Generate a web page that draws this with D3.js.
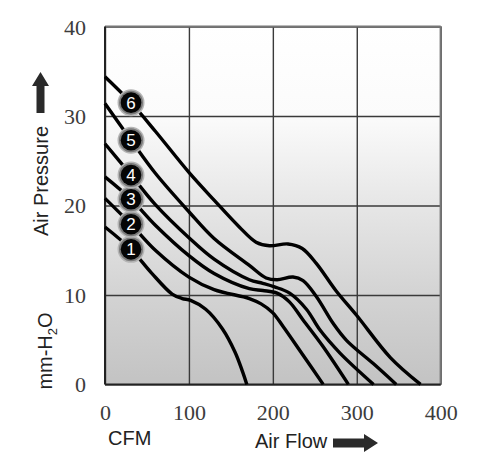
<!DOCTYPE html>
<html>
<head>
<meta charset="utf-8">
<script src="https://cdn.jsdelivr.net/npm/d3@7"></script>
<style>
  body { margin: 0; background: #fff; }
</style>
</head>
<body>
<div id="chart"></div>
<script>
var w = 500;
var h = 462;

// fan curves 1..6, [CFM, mm-H2O]
var fan1 = [[0,17.6],[31,15.1],[55,12.5],[80,10.1],[92,9.6],[102,9.4],[120,8.4],[140,6.2],[155,3.6],[164,1.4],[169,0]];
var fan2 = [[0,20.8],[31,17.9],[60,15.0],[100,12.0],[130,10.6],[172,9.6],[186,9.0],[200,8.0],[212,6.5],[235,3.4],[260,0]];
var fan3 = [[0,23.2],[31,20.7],[60,17.8],[100,14.4],[130,12.4],[172,10.7],[188,10.5],[205,10.2],[220,9.2],[236,7.2],[260,4.2],[290,0]];
var fan4 = [[0,26.9],[31,23.4],[60,20.1],[100,16.4],[130,14.0],[172,11.7],[188,11.3],[202,10.9],[220,10.2],[240,8.4],[256,6.1],[280,3.5],[320,0]];
var fan5 = [[0,31.4],[31,27.3],[60,23.6],[100,19.3],[130,16.3],[172,13.3],[192,11.9],[205,11.7],[224,12.0],[236,11.6],[252,9.8],[272,6.8],[288,4.9],[320,2.3],[347,0]];
var fan6 = [[0,34.4],[31,31.5],[60,28.3],[100,23.7],[130,20.6],[160,17.6],[180,15.9],[196,15.5],[218,15.7],[235,15.2],[252,13.5],[275,10.5],[300,7.7],[340,3.0],[376,0]];
var curves = [fan1, fan2, fan3, fan4, fan5, fan6];
var curveLabels = ["1", "2", "3", "4", "5", "6"];
var labelX = 31; // labels sit on each curve at this CFM

var xTicks = [0, 100, 200, 300, 400];
var yTicks = [0, 10, 20, 30, 40];

var xscale = d3.scaleLinear().domain([0, 400]).range([105, 440.7]);
var yscale = d3.scaleLinear().domain([0, 40]).range([384.4, 26.6]);

var svg = d3.select("#chart")
            .append("svg")
            .attr("width", w)
            .attr("height", h);

// background gradient
var grad = svg.append("defs")
              .append("linearGradient")
              .attr("id", "bg")
              .attr("x1", 0).attr("y1", 0)
              .attr("x2", 0).attr("y2", 1);
grad.append("stop").attr("offset", "0").attr("stop-color", "#ffffff");
grad.append("stop").attr("offset", "0.25").attr("stop-color", "#fbfbfb");
grad.append("stop").attr("offset", "0.5").attr("stop-color", "#e6e6e6");
grad.append("stop").attr("offset", "0.75").attr("stop-color", "#d3d3d3");
grad.append("stop").attr("offset", "1").attr("stop-color", "#c3c3c3");

svg.append("rect")
   .attr("x", xscale(0))
   .attr("y", yscale(40))
   .attr("width", xscale(400) - xscale(0))
   .attr("height", yscale(0) - yscale(40))
   .attr("fill", "url(#bg)");

// grid + tick labels
var yAxis = svg.append("g")
   .attr("transform", `translate(${xscale(0)},0)`)
   .call(d3.axisLeft(yscale).tickValues(yTicks).tickSize(-(xscale(400) - xscale(0))).tickPadding(19));
var xAxis = svg.append("g")
   .attr("transform", `translate(0,${yscale(0)})`)
   .call(d3.axisBottom(xscale).tickValues(xTicks).tickSize(-(yscale(0) - yscale(40))).tickPadding(20));

[yAxis, xAxis].forEach(function(a) {
    a.attr("font-family", null).attr("font-size", null);
    a.select(".domain").remove();
    a.selectAll(".tick line").attr("stroke", "#3a3a3a").attr("stroke-width", 1.4);
    a.selectAll(".tick text")
     .style("font-family", "'Liberation Serif', 'DejaVu Serif', serif")
     .style("font-size", "22px")
     .attr("fill", "#3c3c3c");
});
yAxis.selectAll(".tick text").attr("dy", "0.34em");
xAxis.selectAll(".tick text").attr("dy", "0.72em");

// frame: top/right lighter, left/bottom dark
svg.append("line").attr("x1", xscale(0)).attr("x2", xscale(400)).attr("y1", yscale(40)).attr("y2", yscale(40))
   .attr("stroke", "#777").attr("stroke-width", 2);
svg.append("line").attr("x1", xscale(400)).attr("x2", xscale(400)).attr("y1", yscale(40)).attr("y2", yscale(0))
   .attr("stroke", "#777").attr("stroke-width", 2.2);
svg.append("line").attr("x1", xscale(0)).attr("x2", xscale(0)).attr("y1", yscale(40)).attr("y2", yscale(0))
   .attr("stroke", "#222").attr("stroke-width", 2);
svg.append("line").attr("x1", xscale(0)).attr("x2", xscale(400)).attr("y1", yscale(0)).attr("y2", yscale(0))
   .attr("stroke", "#222").attr("stroke-width", 2);

// curves
var line = d3.line()
             .x(d => xscale(d[0]))
             .y(d => yscale(d[1]))
             .curve(d3.curveCatmullRom.alpha(0.5));

svg.selectAll("path.fan")
   .data(curves)
   .enter()
   .append("path")
   .attr("class", "fan")
   .attr("d", line)
   .attr("fill", "none")
   .attr("stroke", "#000")
   .attr("stroke-width", 3.4)
   .attr("stroke-linecap", "butt");

// numbered markers
var marks = curves.map((c, i) => ({ p: c.find(d => d[0] === labelX), t: curveLabels[i] }));
var mk = svg.selectAll("g.mark")
            .data(marks)
            .enter()
            .append("g")
            .attr("class", "mark")
            .attr("transform", d => `translate(${xscale(d.p[0])},${yscale(d.p[1])})`);
mk.append("circle").attr("r", 13.5).attr("fill", "#b5b5b5");
mk.append("circle").attr("r", 12).attr("fill", "#7a7a7a");
mk.append("circle").attr("r", 10.3).attr("fill", "#050505");
mk.append("text")
  .attr("text-anchor", "middle")
  .attr("dy", "0.36em")
  .style("font-family", "Liberation Sans, Arial, sans-serif")
  .style("font-size", "17px")
  .attr("fill", "#fff")
  .text(d => d.t);

// axis titles
var sans = "Liberation Sans, Arial, sans-serif";
svg.append("text")
   .attr("x", 108).attr("y", 445)
   .style("font-family", sans).style("font-size", "20px").attr("fill", "#222")
   .text("CFM");
svg.append("text")
   .attr("x", 255).attr("y", 448)
   .style("font-family", sans).style("font-size", "20px").attr("fill", "#222")
   .text("Air Flow");
svg.append("path")
   .attr("d", "M333,438.5 L364,438.5 L364,434 L378,443 L364,452 L364,447.5 L333,447.5 Z")
   .attr("fill", "#2a2a2a");

svg.append("text")
   .attr("transform", "translate(48,181) rotate(-90)")
   .attr("text-anchor", "middle")
   .style("font-family", sans).style("font-size", "20px").attr("fill", "#222")
   .text("Air Pressure");
svg.append("path")
   .attr("d", "M36.5,113 L36.5,86 L32,86 L40.5,72 L49,86 L44.5,86 L44.5,113 Z")
   .attr("fill", "#2a2a2a");

var mm = svg.append("text")
   .attr("transform", "translate(52,351) rotate(-90)")
   .attr("text-anchor", "middle")
   .style("font-family", sans).style("font-size", "20px").attr("fill", "#222");
mm.append("tspan").text("mm-H");
mm.append("tspan").attr("dy", 5).style("font-size", "13px").text("2");
mm.append("tspan").attr("dy", -5).text("O");
</script>
</body>
</html>
